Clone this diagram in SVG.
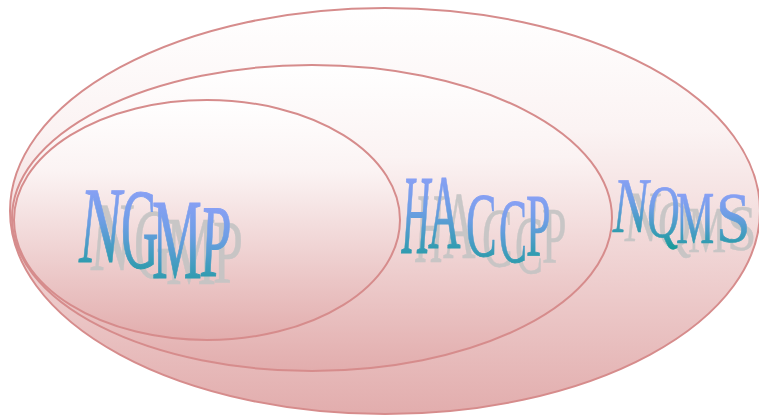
<svg xmlns="http://www.w3.org/2000/svg" width="759" height="415" viewBox="0 0 759 415">
  <defs>
    <linearGradient id="fillPink" x1="0" y1="0" x2="0" y2="1">
      <stop offset="0" stop-color="#ffffff"/>
      <stop offset="0.3" stop-color="#fbf3f3"/>
      <stop offset="1" stop-color="#e2adad"/>
    </linearGradient>
    <linearGradient id="inkBlueTeal" x1="0" y1="0" x2="0" y2="1">
      <stop offset="0" stop-color="#9ca2ff"/>
      <stop offset="0.45" stop-color="#6f9ee6"/>
      <stop offset="1" stop-color="#0e9a92"/>
    </linearGradient>
    <style>
      .ring { fill: url(#fillPink); stroke: #d68c8c; stroke-width: 2; }
      .glyph { font-family: "Liberation Serif", "Times New Roman", serif; font-size: 100px; }
      .face { fill: url(#inkBlueTeal); stroke: url(#inkBlueTeal); stroke-width: 0.9; vector-effect: non-scaling-stroke; }
      .shade { fill: #c4c4c4; stroke: #c4c4c4; stroke-width: 0.6; vector-effect: non-scaling-stroke; opacity: 0.9; }
    </style>
  </defs>

  <!-- outermost set: NQMS -->
  <g id="nqms">
    <ellipse class="ring" cx="385" cy="211" rx="375" ry="203"/>
    <g class="glyph shade">
      <text transform="translate(623,241) skewX(-6) scale(0.47,0.72)">N</text>
      <text transform="translate(658,247) scale(0.46,0.68)">Q</text>
      <text transform="translate(688,252) scale(0.43,0.66)">M</text>
      <text transform="translate(727,250) scale(0.53,0.66)">S</text>
    </g>
    <g class="glyph face">
      <text transform="translate(611,232) skewX(-7) scale(0.48,0.79)">N</text>
      <text transform="translate(646,237) skewX(-3) scale(0.45,0.75)">Q</text>
      <text transform="translate(676,243) scale(0.43,0.73)">M</text>
      <text transform="translate(716,242) scale(0.62,0.72)">S</text>
    </g>
  </g>

  <!-- middle set: HACCP -->
  <g id="haccp">
    <ellipse class="ring" cx="312" cy="218" rx="300" ry="153"/>
    <g class="glyph shade">
      <text transform="translate(414,262) skewX(-3) scale(0.39,1.0)">H</text>
      <text transform="translate(443,258) scale(0.45,0.95)">A</text>
      <text transform="translate(482,267) scale(0.46,0.84)">C</text>
      <text transform="translate(515,273) scale(0.42,0.82)">C</text>
      <text transform="translate(542,263) scale(0.44,0.8)">P</text>
    </g>
    <g class="glyph face">
      <text transform="translate(400,253) skewX(-4) scale(0.39,1.13)">H</text>
      <text transform="translate(428,248) scale(0.45,1.06)">A</text>
      <text transform="translate(466,256) scale(0.46,0.92)">C</text>
      <text transform="translate(499,262) scale(0.42,0.9)">C</text>
      <text transform="translate(526,255) scale(0.44,0.88)">P</text>
    </g>
  </g>

  <!-- inner set: NGMP -->
  <g id="ngmp">
    <ellipse class="ring" cx="207" cy="220" rx="193" ry="120"/>
    <g class="glyph shade">
      <text transform="translate(89,270) skewX(-5) scale(0.56,0.98)">N</text>
      <text transform="translate(134,277) scale(0.52,1.0)">G</text>
      <text transform="translate(166,284) scale(0.56,0.98)">M</text>
      <text transform="translate(213,283) scale(0.54,0.92)">P</text>
    </g>
    <g class="glyph face">
      <text transform="translate(77,262) skewX(-6) scale(0.57,1.09)">N</text>
      <text transform="translate(121,268) scale(0.52,1.14)">G</text>
      <text transform="translate(152,278) scale(0.56,1.15)">M</text>
      <text transform="translate(199,276) skewX(-3) scale(0.54,1.03)">P</text>
    </g>
  </g>
</svg>
